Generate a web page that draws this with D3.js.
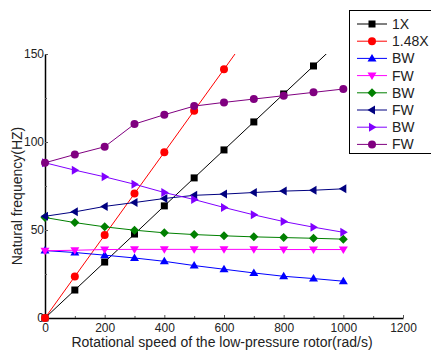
<!DOCTYPE html>
<html>
<head>
<meta charset="utf-8">
<script src="https://cdn.jsdelivr.net/npm/d3@7"></script>
<style>
  body { margin: 0; background: #fff; }
  svg { font-family: "Liberation Sans", Arial, sans-serif; }
</style>
</head>
<body>
<svg width="431" height="351"></svg>
<script>
const speeds = [0, 100, 200, 300, 400, 500, 600, 700, 800, 900, 1000];

const x1 = [0, 15.9, 31.8, 47.7, 63.7, 79.6, 95.5, 111.4, 127.3, 143.2, 159.2];
const x148 = [0, 23.6, 47.1, 70.7, 94.2, 117.8, 141.3, 164.9, 188.4, 212.0, 235.6];
const bw1 = [38.3, 37.2, 35.7, 34.1, 32.2, 29.8, 27.7, 25.6, 23.7, 22.4, 20.9];
const fw1 = [38.2, 38.5, 38.9, 39, 39, 39, 39, 39, 38.9, 38.9, 38.9];
const bw2 = [57.1, 54.2, 51.8, 49.9, 48.4, 47.4, 46.7, 46.1, 45.7, 45.3, 44.8];
const fw2 = [57.8, 60.3, 63.4, 65.6, 67.9, 69.7, 70.4, 71.3, 72.1, 72.6, 73.4];
const bw3 = [88.2, 84.0, 80.2, 76.0, 71.3, 67.3, 62.8, 58.6, 54.8, 51.6, 48.7];
const fw3 = [88.2, 92.9, 97.3, 110.2, 115.5, 120.4, 122.5, 124.4, 126.3, 128.2, 130.1];

const seriesNames = ["1X", "1.48X", "BW", "FW", "BW", "FW", "BW", "FW"];
const seriesValues = [x1, x148, bw1, fw1, bw2, fw2, bw3, fw3];
const seriesColors = ["#000000", "#ff0000", "#0000ff", "#ff00ff", "#008000", "#000080", "#8000ff", "#800080"];
const seriesSymbols = ["square", "circle", "up", "down", "diamond", "left", "right", "circle"];

const xTicks = [0, 200, 400, 600, 800, 1000, 1200];
const yTicks = [0, 50, 100, 150];

const svg = d3.select("svg");

const xScale = d3.scaleLinear().domain([0, 1200]).range([45, 403]);
const yScale = d3.scaleLinear().domain([0, 150]).range([318, 54]);

svg.append("defs").append("clipPath").attr("id", "plot")
  .append("rect")
  .attr("x", 40).attr("y", 54)
  .attr("width", 370).attr("height", 270);

// axes, ticks point inward
svg.append("g")
  .attr("transform", "translate(0,318)")
  .call(d3.axisBottom(xScale).tickValues(xTicks).tickFormat(d3.format("d"))
    .tickSize(-3).tickSizeOuter(0).tickPadding(5));
svg.append("g")
  .attr("transform", "translate(0,318)")
  .call(d3.axisBottom(xScale).tickValues([100, 300, 500, 700, 900, 1100]).tickSize(-2).tickFormat(""))
  .select(".domain").remove();

svg.append("g")
  .attr("transform", "translate(45,0)")
  .call(d3.axisLeft(yScale).tickValues(yTicks).tickFormat(d3.format("d"))
    .tickSize(-3).tickSizeOuter(0).tickPadding(1));
svg.append("g")
  .attr("transform", "translate(45,0)")
  .call(d3.axisLeft(yScale).tickValues([25, 75, 125]).tickSize(-2).tickFormat(""))
  .select(".domain").remove();

svg.selectAll(".tick text").attr("font-size", 12).attr("fill", "#222")
  .style("font-family", "'Liberation Sans', Arial, sans-serif");
svg.selectAll(".domain").attr("stroke", "#000").attr("stroke-width", 1.5);
svg.selectAll(".tick line").attr("stroke", "#555");

function marker(g, sym, color) {
  if (sym === "square") {
    g.append("rect").attr("x", -3.5).attr("y", -3.5).attr("width", 7).attr("height", 7).attr("fill", color);
  } else if (sym === "circle") {
    g.append("circle").attr("r", 4).attr("fill", color);
  } else if (sym === "diamond") {
    g.append("path").attr("d", "M0,-4.5L4.5,0L0,4.5L-4.5,0Z").attr("fill", color);
  } else {
    const tri = {
      up: "M0,-4.5L4.5,3L-4.5,3Z",
      down: "M0,4.5L4.5,-3L-4.5,-3Z",
      left: "M-4.5,0L3,-4.5L3,4.5Z",
      right: "M4.5,0L-3,-4.5L-3,4.5Z"
    }[sym];
    g.append("path").attr("d", tri).attr("fill", color);
  }
}

const line = d3.line()
  .x((d, i) => xScale(speeds[i]))
  .y(d => yScale(d));

const plot = svg.append("g").attr("clip-path", "url(#plot)");

seriesValues.forEach((vals, k) => {
  plot.append("path")
    .attr("d", line(vals))
    .attr("fill", "none")
    .attr("stroke", seriesColors[k])
    .attr("stroke-width", 1);
  vals.forEach((v, i) => {
    if (v > 150) return;
    const g = plot.append("g").attr("transform", `translate(${xScale(speeds[i])},${yScale(v)})`);
    marker(g, seriesSymbols[k], seriesColors[k]);
  });
});

// axis titles
svg.append("text")
  .attr("x", 222).attr("y", 347)
  .attr("text-anchor", "middle")
  .attr("font-size", 14).attr("fill", "#222")
  .text("Rotational speed of the low-pressure rotor(rad/s)");

svg.append("text")
  .attr("transform", "translate(22,196) rotate(-90)")
  .attr("text-anchor", "middle")
  .attr("font-size", 14).attr("fill", "#222")
  .text("Natural frequency(HZ)");

// legend
const legend = svg.append("g");
legend.append("rect")
  .attr("x", 349.5).attr("y", 10.5)
  .attr("width", 100).attr("height", 143)
  .attr("fill", "#fff").attr("stroke", "#000").attr("stroke-width", 1);

seriesNames.forEach((name, k) => {
  const y = 24 + k * 17.2;
  legend.append("line")
    .attr("x1", 357).attr("x2", 387)
    .attr("y1", y).attr("y2", y)
    .attr("stroke", seriesColors[k]).attr("stroke-width", 1);
  const g = legend.append("g").attr("transform", `translate(372,${y})`);
  marker(g, seriesSymbols[k], seriesColors[k]);
  legend.append("text")
    .attr("x", 392).attr("y", y + 5)
    .attr("font-size", 14).attr("fill", "#222")
    .text(name);
});
</script>
</body>
</html>
